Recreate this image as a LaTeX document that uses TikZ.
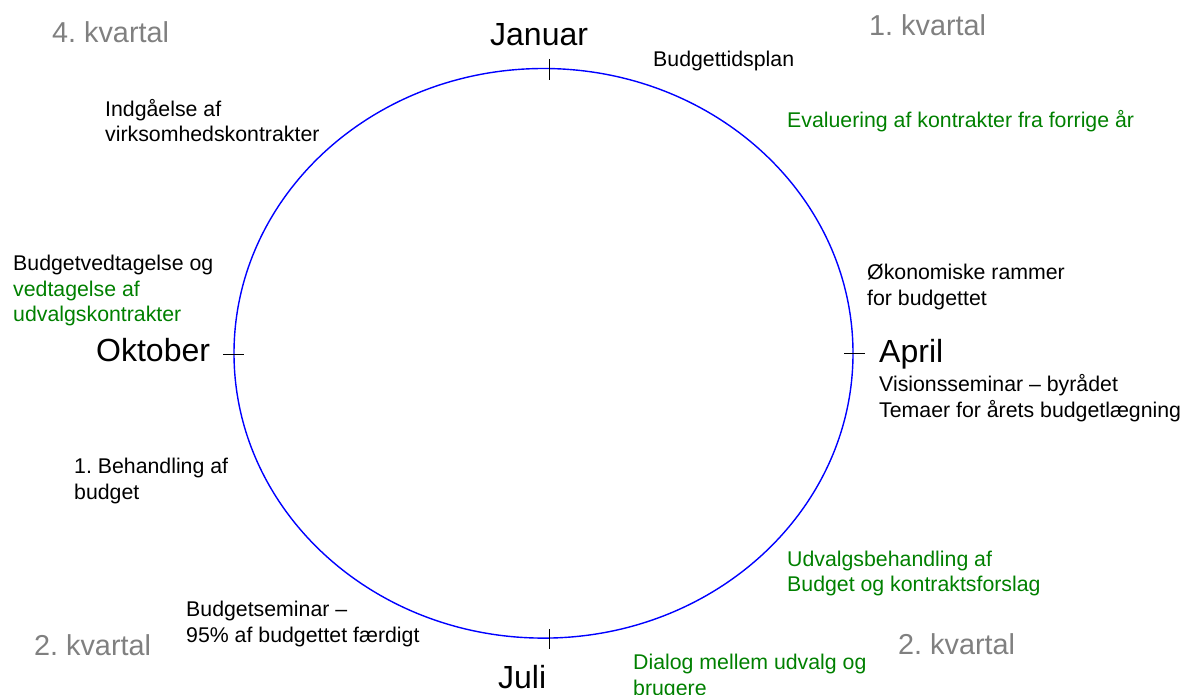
\documentclass[tikz,border=0pt]{standalone}
\usepackage{fontspec}
\setmainfont{Liberation Sans}
\frenchspacing
\definecolor{qgreen}{RGB}{0,128,0}
\definecolor{qgray}{RGB}{128,128,128}
\tikzset{
  small/.style={font=\fontsize{21.3}{25.6}\selectfont, anchor=base west, inner sep=0pt, align=left},
  month/.style={font=\fontsize{32}{36}\selectfont, anchor=base west, inner sep=0pt},
  quarter/.style={font=\fontsize{28.8}{32}\selectfont, anchor=base west, inner sep=0pt, text=qgray},
  green/.style={text=qgreen},
  tickmark/.style={draw=black, line width=1pt},
}
\begin{document}
\begin{tikzpicture}[x=1pt,y=-1pt]
\useasboundingbox (0,0) rectangle (1188,695);
\draw[blue, line width=1.4pt] (543.5,353.3) ellipse [x radius=309.5, y radius=284.8];
% ticks
\coordinate (t1) at (549,59); \coordinate (t2) at (549,80);
\coordinate (b1) at (549,629); \coordinate (b2) at (549,649);
\coordinate (l1) at (223,354); \coordinate (l2) at (244,354);
\coordinate (r1) at (844,353); \coordinate (r2) at (865,353);
\draw[tickmark] (t1) -- (t2);
\draw[tickmark] (b1) -- (b2);
\draw[tickmark] (l1) -- (l2);
\draw[tickmark] (r1) -- (r2);
% quarters
\node[quarter] (q4) at (52,43) {4. kvartal};
\node[quarter] (q1) at (869,36) {1. kvartal};
\node[quarter] (q2l) at (34,655) {2. kvartal};
\node[quarter] (q2r) at (898,654) {2. kvartal};
% months
\node[month] (jan) at (490,46) {Januar};
\node[month] (okt) at (96,361) {Oktober};
\node[month] (apr) at (879,362) {April};
\node[month] (jul) at (498,688) {Juli};
% events (anchor = baseline of last line)
\node[small] (bt) at (653,66.5) {Budgettidsplan};
\node[small, green] (ev) at (787,128) {Evaluering af kontrakter fra forrige år};
\node[small] (ig) at (105,142) {Indgåelse af\\virksomhedskontrakter};
\node[small] (bv) at (13,321.7) {Budgetvedtagelse og\\\textcolor{qgreen}{vedtagelse af}\\\textcolor{qgreen}{udvalgskontrakter}};
\node[small] (ok) at (867,305) {Økonomiske rammer\\for budgettet};
\node[small] (vs) at (879,417) {Visionsseminar – byrådet\\Temaer for årets budgetlægning};
\node[small] (bh) at (74,499) {1. Behandling af\\budget};
\node[small, green] (ub) at (787,591.7) {Udvalgsbehandling af\\Budget og kontraktsforslag};
\node[small] (bs) at (186,642) {Budgetseminar –\\95\% af budgettet færdigt};
\node[small, green] (dl) at (633,695) {Dialog mellem udvalg og\\brugere};
\end{tikzpicture}
\end{document}
